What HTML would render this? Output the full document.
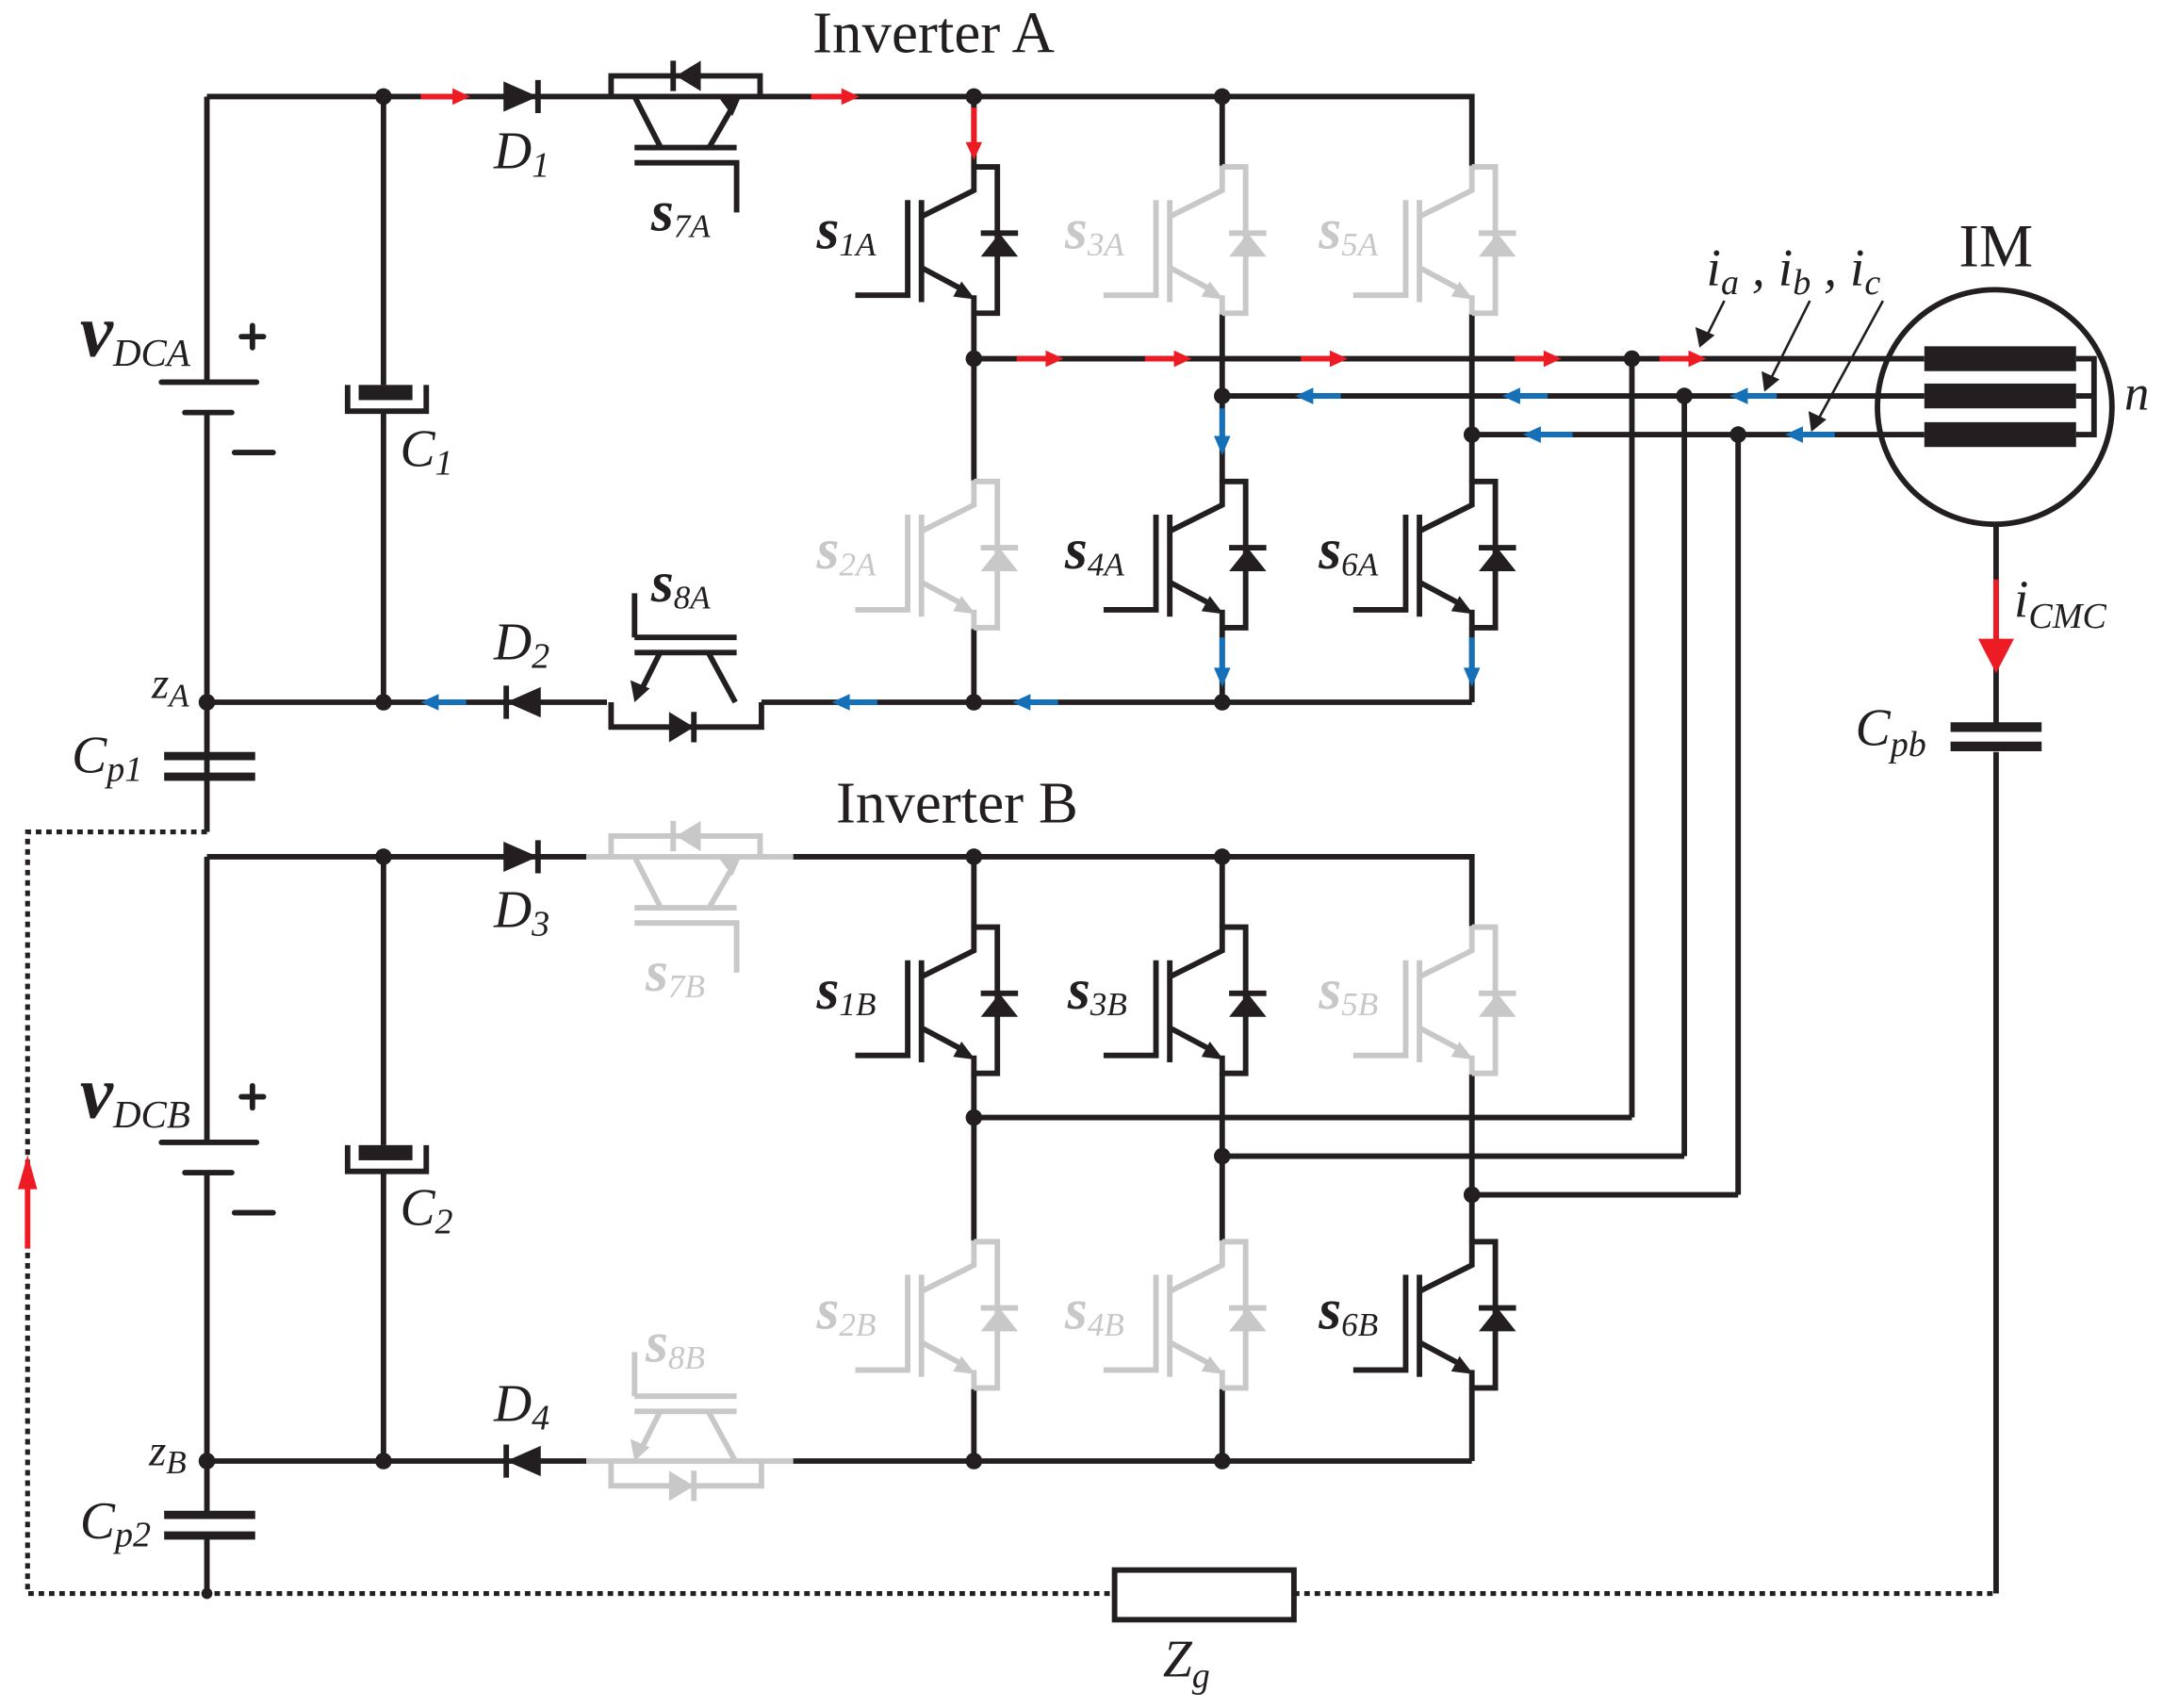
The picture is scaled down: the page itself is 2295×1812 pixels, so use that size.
<!DOCTYPE html>
<html><head><meta charset="utf-8"><style>
html,body{margin:0;padding:0;background:#fff}
svg{display:block}
text{font-family:"Liberation Serif",serif;fill:#231f20}
.S{font-weight:bold;font-style:italic;font-size:42px}
.sub{font-style:italic;font-size:24px}
</style></head><body>
<svg width="2295" height="1812" viewBox="0 0 1568 1238" xmlns="http://www.w3.org/2000/svg">
<defs>
<g id="igbt" fill="none" stroke-width="4" stroke-linejoin="miter">
  <path d="M0,-1 V17 L-38,36 M-38,24 V98 M-48,24 V93 H-86 M-38,73 L-8,89 M0,93 V107 M0,0 H17 V106 H0 M5,48 H32"/>
  <polygon points="5,65 32,65 18.5,48" stroke="none" fill="currentColor"/>
  <polygon points="1,96 -15,94 -9,83" stroke="none" fill="currentColor"/>
</g>
</defs>
<g stroke="#231f20" stroke-width="4" fill="none" stroke-linecap="butt">
<path d="M150,70 H1067 V121 M150,70 V277 M150,299 V603 M278,70 V279 M278,299 V509 M150,509 H440 M552,509 H1067"/>
<path d="M706,70 V121 M706,227 V349 M706,455 V509 M886,70 V121 M886,227 V349 M886,455 V509 M1067,227 V349 M1067,455 V509"/>
<path d="M706,260 H1395 M886,287 H1395 M1067,315 H1395 M1183,260 V810 M1221,287 V838 M1260,315 V866"/>
<path d="M150,621 H425 M575,621 H1067 V672 M150,621 V828 M150,850 V1098 M150,1113 V1155 M278,621 V830 M278,850 V1059 M150,1059 H425 M575,1059 H1067"/>
<path d="M706,621 V672 M706,778 V900 M706,1006 V1059 M886,621 V672 M886,778 V900 M886,1006 V1059 M1067,778 V900 M1067,1006 V1059"/>
<path d="M706,810 H1183 M886,838 H1221 M1067,866 H1260"/>
<path d="M117,277 H186 M134,299 H168 M170,328 H198 M183,236 V252 M175,244 H191" stroke-linecap="round"/>
<path d="M117,828 H186 M134,850 H168 M170,879 H198 M183,787 V803 M175,795 H191" stroke-linecap="round"/>
<path d="M252,279 V298 H309 V279 M252,830 V849 H309 V830"/>
<path d="M119,548 H185 M119,563 H185 M119,1098 H185 M119,1113 H185" stroke-width="6"/>
<path d="M1447,380 V524 M1447,545 V1155"/>
<path d="M1414,527 H1480 M1414,541 H1480" stroke-width="7"/>
<circle cx="1446" cy="295" r="85"/>
<path d="M1505,260 H1518 V315 H1505 M1505,287 H1518"/>
<path d="M150,603 H20 V1155 H808 M938,1155 H1447" stroke-width="3.5" stroke-dasharray="4 3.5"/>
<rect x="808" y="1138" width="130" height="36" stroke-width="4"/>
<!-- S7A -->
<path d="M390,58 V82 M443,70 V55 H551 V70 M488,44 V66 M460,70 L479,107 M514,107 L532,76 M460,107 H534 M460,118 H534 V154"/>
<!-- D2 S8A -->
<path d="M367,497 V521 M443,509 V527 H552 V509 M503,516 V538 M478,474 L465,500 M514,474 L533,509 M460,473 H534 M460,462 H534 M460,462 V430"/>
<path d="M390,609 V633"/>
<path d="M367,1047 V1071"/>
<path d="M1250,218 L1236,246 M1312,218 L1283,276 M1365,218 L1317,306" stroke-width="1.8"/>
</g>
<g fill="#231f20">
<polygon points="365,59 365,81 390,70"/>
<polygon points="508,44 508,66 490,55"/>
<polygon points="538,68 522,72 531,84"/>
<polygon points="392,498 392,520 367,509"/>
<polygon points="485,516 485,538 503,527"/>
<polygon points="460,509 457,493 471,499"/>
<polygon points="365,610 365,632 390,621"/>
<polygon points="392,1048 392,1070 367,1059"/>
<rect x="260" y="279" width="39" height="11"/>
<rect x="260" y="830" width="39" height="11"/>
<rect x="1395" y="251" width="110" height="18"/>
<rect x="1395" y="278" width="110" height="18"/>
<rect x="1395" y="306" width="110" height="18"/>
<polygon points="1232,252 1229,237 1243,243"/>
<polygon points="1279,284 1277,269 1290,275"/>
<polygon points="1313,313 1311,298 1324,304"/>
</g>
<g stroke="#c8c8c8" stroke-width="4" fill="none">
<path d="M425,621 H575 M443,621 V606 H551 V621 M488,595 V617 M460,621 L479,658 M514,658 L532,627 M460,658 H534 M460,669 H534 V705"/>
<path d="M425,1059 H575 M443,1059 V1077 H552 V1059 M503,1066 V1088 M478,1024 L465,1050 M514,1024 L533,1059 M460,1023 H534 M460,1012 H534 M460,1012 V980"/>
</g>
<g fill="#c8c8c8">
<polygon points="508,595 508,617 490,606"/>
<polygon points="538,619 522,623 531,635"/>
<polygon points="485,1066 485,1088 503,1077"/>
<polygon points="460,1059 457,1043 471,1049"/>
</g>
<use href="#igbt" x="706" y="121" color="#231f20" stroke="#231f20"/>
<use href="#igbt" x="886" y="121" color="#c8c8c8" stroke="#c8c8c8"/>
<use href="#igbt" x="1067" y="121" color="#c8c8c8" stroke="#c8c8c8"/>
<use href="#igbt" x="706" y="349" color="#c8c8c8" stroke="#c8c8c8"/>
<use href="#igbt" x="886" y="349" color="#231f20" stroke="#231f20"/>
<use href="#igbt" x="1067" y="349" color="#231f20" stroke="#231f20"/>
<use href="#igbt" x="706" y="672" color="#231f20" stroke="#231f20"/>
<use href="#igbt" x="886" y="672" color="#231f20" stroke="#231f20"/>
<use href="#igbt" x="1067" y="672" color="#c8c8c8" stroke="#c8c8c8"/>
<use href="#igbt" x="706" y="900" color="#c8c8c8" stroke="#c8c8c8"/>
<use href="#igbt" x="886" y="900" color="#c8c8c8" stroke="#c8c8c8"/>
<use href="#igbt" x="1067" y="900" color="#231f20" stroke="#231f20"/>
<g fill="#231f20">
<circle cx="278" cy="70" r="6"/><circle cx="706" cy="70" r="6"/><circle cx="886" cy="70" r="6"/>
<circle cx="706" cy="260" r="6"/><circle cx="886" cy="287" r="6"/><circle cx="1067" cy="315" r="6"/>
<circle cx="1183" cy="260" r="6"/><circle cx="1221" cy="287" r="6"/><circle cx="1260" cy="315" r="6"/>
<circle cx="150" cy="509" r="6"/><circle cx="278" cy="509" r="6"/><circle cx="706" cy="509" r="6"/><circle cx="886" cy="509" r="6"/>
<circle cx="278" cy="621" r="6"/><circle cx="706" cy="621" r="6"/><circle cx="886" cy="621" r="6"/>
<circle cx="706" cy="810" r="6"/><circle cx="886" cy="838" r="6"/><circle cx="1067" cy="866" r="6"/>
<circle cx="150" cy="1059" r="6"/><circle cx="278" cy="1059" r="6"/><circle cx="706" cy="1059" r="6"/><circle cx="886" cy="1059" r="6"/>
<circle cx="150" cy="1155" r="4"/>
</g>
<g stroke="#ed1c24" stroke-width="4" fill="#ed1c24">
<path d="M305,70 H330 M588,70 H612 M706,78 V105 M737,260 H760 M830,260 H853 M943,260 H966 M1098,260 H1121 M1203,260 H1226 M1447,420 V465 M20,905 V858"/>
</g>
<g fill="#ed1c24">
<polygon points="328,64 328,76 341,70"/><polygon points="610,64 610,76 623,70"/>
<polygon points="700,103 712,103 706,116"/>
<polygon points="758,254 758,266 771,260"/><polygon points="851,254 851,266 864,260"/><polygon points="964,254 964,266 977,260"/>
<polygon points="1119,254 1119,266 1132,260"/><polygon points="1224,254 1224,266 1237,260"/>
<polygon points="1434,463 1460,463 1447,488"/>
<polygon points="13,862 27,862 20,837"/>
</g>
<g stroke="#1570b8" stroke-width="4">
<path d="M950,287 H972 M1100,287 H1122 M1265,287 H1288 M1115,315 H1140 M1305,315 H1330 M886,296 V318 M886,462 V486 M1067,462 V486 M316,509 H338 M614,509 H636 M745,509 H767"/>
</g>
<g fill="#1570b8">
<polygon points="952,281 952,293 939,287"/><polygon points="1102,281 1102,293 1089,287"/><polygon points="1267,281 1267,293 1254,287"/>
<polygon points="1117,309 1117,321 1104,315"/><polygon points="1307,309 1307,321 1294,315"/>
<polygon points="880,316 892,316 886,330"/><polygon points="880,484 892,484 886,498"/><polygon points="1061,484 1073,484 1067,498"/>
<polygon points="318,503 318,515 305,509"/><polygon points="616,503 616,515 603,509"/><polygon points="747,503 747,515 734,509"/>
</g>
<text x="589" y="38" font-size="43">Inverter A</text>
<text x="606" y="596" font-size="43">Inverter B</text>
<text x="1420" y="193" font-size="44">IM</text>
<text x="1540" y="297" font-size="36" font-style="italic">n</text>
<text x="1237" y="207" font-size="38" font-style="italic">i<tspan font-size="26" dy="6">a</tspan><tspan dy="-6"> , i</tspan><tspan font-size="26" dy="6">b</tspan><tspan dy="-6"> , i</tspan><tspan font-size="26" dy="6">c</tspan></text>
<text x="1460" y="447" font-size="38" font-style="italic">i<tspan font-size="26" dy="8">CMC</tspan></text>
<text x="1345" y="540" font-size="38" font-style="italic">C<tspan font-size="26" dy="8">pb</tspan></text>
<text x="843" y="1215" font-size="38" font-style="italic">Z<tspan font-size="26" dy="8">g</tspan></text>
<text x="58" y="258" font-size="54" font-weight="bold" font-style="italic">v<tspan font-size="28" font-weight="normal" dy="7">DCA</tspan></text>
<text x="58" y="810" font-size="54" font-weight="bold" font-style="italic">v<tspan font-size="28" font-weight="normal" dy="7">DCB</tspan></text>
<text x="290" y="338" font-size="38" font-style="italic">C<tspan font-size="26" dy="6">1</tspan></text>
<text x="290" y="888" font-size="38" font-style="italic">C<tspan font-size="26" dy="6">2</tspan></text>
<text x="358" y="122" font-size="38" font-style="italic">D<tspan font-size="26" dy="6">1</tspan></text>
<text x="358" y="478" font-size="38" font-style="italic">D<tspan font-size="26" dy="6">2</tspan></text>
<text x="358" y="672" font-size="38" font-style="italic">D<tspan font-size="26" dy="6">3</tspan></text>
<text x="358" y="1030" font-size="38" font-style="italic">D<tspan font-size="26" dy="6">4</tspan></text>
<text x="110" y="506" font-size="32" font-style="italic">z<tspan font-size="24" dy="6">A</tspan></text>
<text x="108" y="1062" font-size="32" font-style="italic">z<tspan font-size="24" dy="6">B</tspan></text>
<text x="52" y="560" font-size="38" font-style="italic">C<tspan font-size="26" dy="6">p1</tspan></text>
<text x="58" y="1115" font-size="38" font-style="italic">C<tspan font-size="26" dy="6">p2</tspan></text>
<text class="S" x="472" y="167">s<tspan class="sub" font-weight="normal" dy="5">7A</tspan></text>
<text class="S" x="472" y="436">s<tspan class="sub" font-weight="normal" dy="5">8A</tspan></text>
<text class="S" x="592" y="180">s<tspan class="sub" font-weight="normal" dy="5">1A</tspan></text>
<text class="S" x="592" y="412" style="fill:#c8c8c8">s<tspan class="sub" font-weight="normal" dy="5" style="fill:#c8c8c8">2A</tspan></text>
<text class="S" x="772" y="180" style="fill:#c8c8c8">s<tspan class="sub" font-weight="normal" dy="5" style="fill:#c8c8c8">3A</tspan></text>
<text class="S" x="772" y="412">s<tspan class="sub" font-weight="normal" dy="5">4A</tspan></text>
<text class="S" x="956" y="180" style="fill:#c8c8c8">s<tspan class="sub" font-weight="normal" dy="5" style="fill:#c8c8c8">5A</tspan></text>
<text class="S" x="956" y="412">s<tspan class="sub" font-weight="normal" dy="5">6A</tspan></text>
<text class="S" x="468" y="718" style="fill:#c8c8c8">s<tspan class="sub" font-weight="normal" dy="5" style="fill:#c8c8c8">7B</tspan></text>
<text class="S" x="468" y="987" style="fill:#c8c8c8">s<tspan class="sub" font-weight="normal" dy="5" style="fill:#c8c8c8">8B</tspan></text>
<text class="S" x="592" y="731">s<tspan class="sub" font-weight="normal" dy="5">1B</tspan></text>
<text class="S" x="592" y="963" style="fill:#c8c8c8">s<tspan class="sub" font-weight="normal" dy="5" style="fill:#c8c8c8">2B</tspan></text>
<text class="S" x="774" y="731">s<tspan class="sub" font-weight="normal" dy="5">3B</tspan></text>
<text class="S" x="772" y="963" style="fill:#c8c8c8">s<tspan class="sub" font-weight="normal" dy="5" style="fill:#c8c8c8">4B</tspan></text>
<text class="S" x="956" y="731" style="fill:#c8c8c8">s<tspan class="sub" font-weight="normal" dy="5" style="fill:#c8c8c8">5B</tspan></text>
<text class="S" x="956" y="963">s<tspan class="sub" font-weight="normal" dy="5">6B</tspan></text>
</svg>
</body></html>
